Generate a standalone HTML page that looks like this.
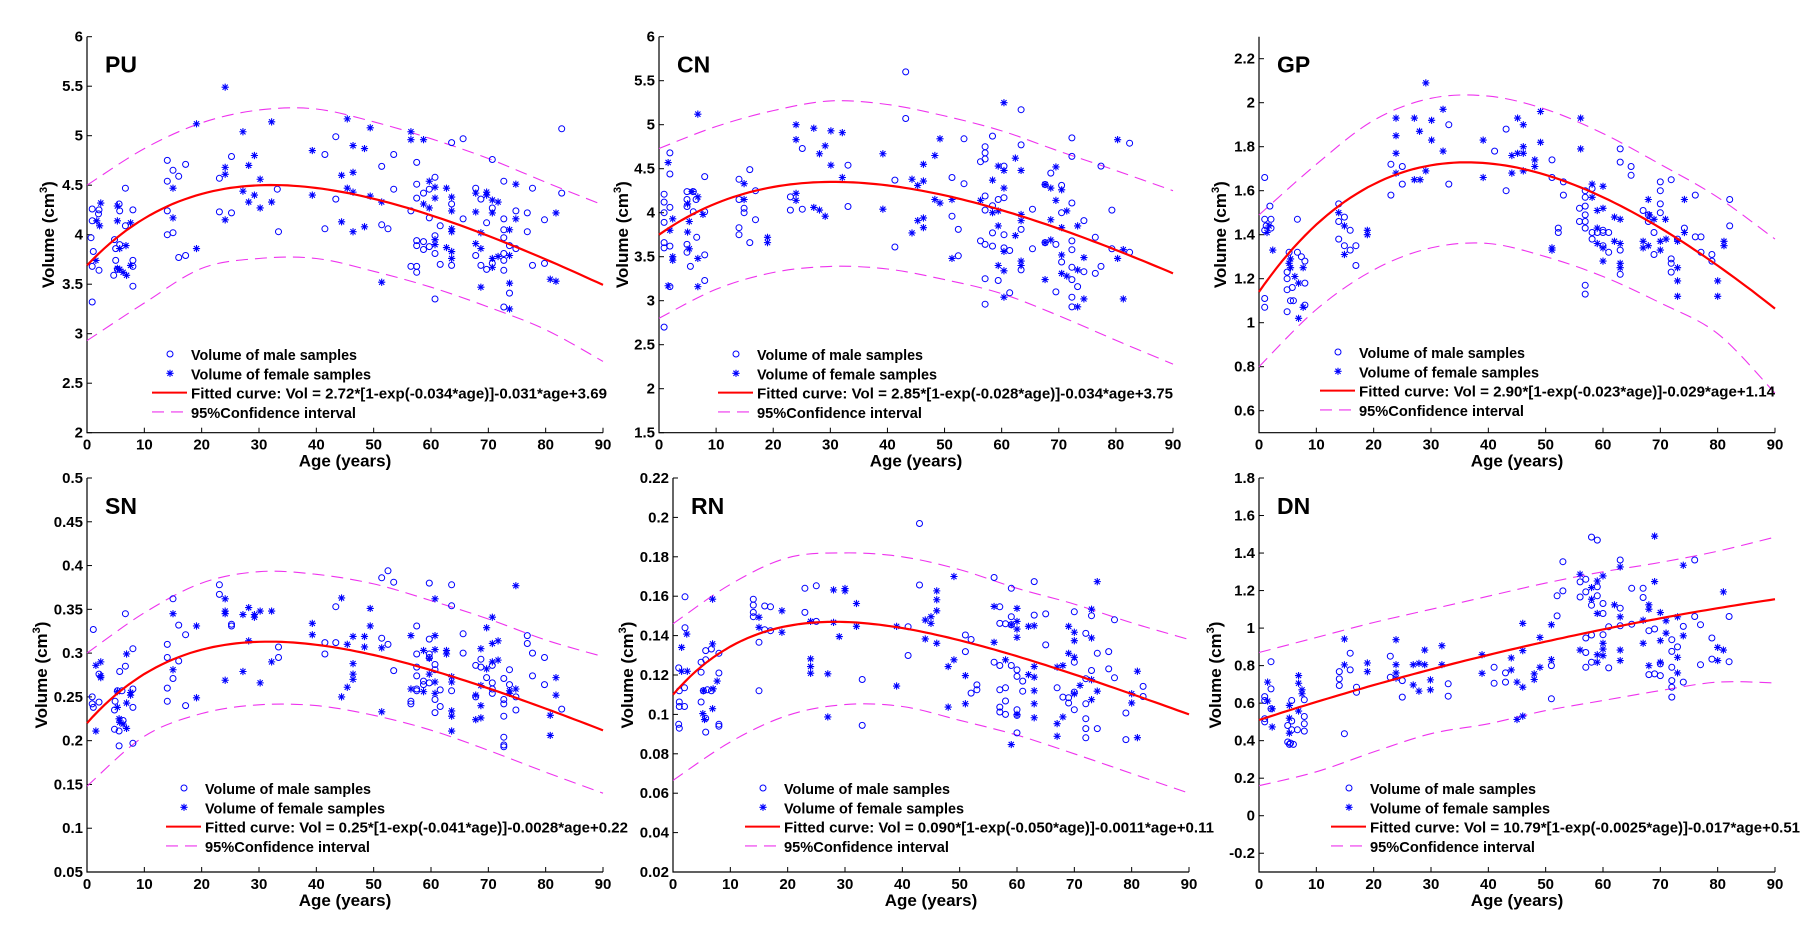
<!DOCTYPE html>
<html><head><meta charset="utf-8"><title>Volume vs age</title>
<style>
html,body{margin:0;padding:0;background:#fff;}
svg{display:block;font-family:"Liberation Sans",Arial,sans-serif;}
.tick{font-size:15px;font-weight:bold;fill:#000;}
.axt{font-size:17px;font-weight:bold;fill:#000;}
.ttl{font-size:23px;font-weight:bold;fill:#000;}
.leg{font-size:15px;font-weight:bold;fill:#000;}
</style></head>
<body>
<svg id="fig" width="1800" height="927" viewBox="0 0 1800 927"></svg>
<script>
// ---------- DATA ----------
const ciAges = [0,10,20,30,40,50,60,70,80,90];

const puFit = [2.72,0.034,0.031,3.69];
const puUpper = [4.5,4.87,5.13,5.26,5.27,5.14,4.97,4.77,4.53,4.3];
const puLower = [2.93,3.31,3.66,3.76,3.76,3.63,3.47,3.27,3.04,2.72];
const puMale = [[0.9,4.26],[0.9,4.14],[0.7,3.97],[1.1,3.83],[0.9,3.68],[0.9,3.32],[2.1,4.25],[2.0,4.21],[2.1,3.64],
[4.8,3.95],[5,3.74],[4.65,3.59],[5.6,4.31],[5.7,4.24],[5.7,3.9],[5,3.86],[6.7,4.47],[6.7,4.09],[8,4.25],[8,3.74],[8,3.68],[8,3.48],[5.3,3.65],
[14,4.75],[14,4.54],[14,4.24],[14,4.0],[15,4.65],[15,4.02],[16,4.59],[16,3.77],[17.2,4.71],[17.2,3.79],
[23.1,4.57],[23.1,4.23],[25.2,4.79],[25.2,4.22],[33.2,4.46],[33.4,4.03],
[41.5,4.81],[41.5,4.06],[43.4,4.99],[43.4,4.36],[51.4,4.69],[51.4,4.1],[52.5,4.06],[53.5,4.81],[53.5,4.46],
[57.5,4.73],[57.5,4.51],[57.5,4.37],[56.5,4.24],[57.5,3.94],[57.5,3.89],[56.5,3.68],[57.5,3.68],[57.5,3.62],[58.7,4.42],[58.7,3.93],[58.7,3.85],[59.7,4.46],[59.7,4.17],[59.7,3.88],[60.7,4.58],[60.7,3.81],[60.7,3.35],[60.7,3.99],[61.6,4.09],[61.6,3.7],[63.6,4.93],[63.6,4.31],[63.6,3.69],[65.6,4.97],[65.6,4.16],
[67.8,4.47],[67.8,3.79],[68.7,4.36],[68.7,3.69],[69.7,4.12],[69.7,3.65],[70.7,4.76],[70.7,4.27],[70.7,3.71],[72.7,4.54],[72.7,4.16],[72.7,4.05],[72.7,3.97],[72.7,3.81],[72.7,3.74],[72.7,3.64],[72.7,3.27],[73.7,3.89],[73.7,3.41],[74.8,4.24],[74.8,3.86],[76.8,4.22],[76.8,4.03],[77.7,4.47],[77.7,3.69],[79.8,4.15],[79.8,3.71],[82.8,5.07],[82.8,4.42]];
const puFemale = [[2.4,4.32],[2.2,4.09],[1.55,3.74],[1.7,4.14],[5.3,4.29],[5.3,4.14],[5.7,3.86],[5.7,3.65],[5.3,3.66],[6.3,3.62],[6.8,3.89],[6.9,3.59],[7.6,4.12],[7.6,3.69],
[15,4.47],[15,4.17],[19.1,5.12],[19.1,3.86],[24.1,5.49],[24.1,4.68],[24.1,4.61],[24.1,4.15],[27.2,5.04],[27.2,4.44],[28.2,4.7],[28.2,4.33],[29.2,4.8],[29.2,4.4],[30.2,4.56],[30.2,4.27],[32.2,5.14],[32.2,4.33],
[39.3,4.85],[39.3,4.4],[44.4,4.6],[44.4,4.13],[45.4,5.17],[45.4,4.47],[46.4,4.9],[46.4,4.63],[46.4,4.43],[46.4,4.03],[48.4,4.87],[48.4,4.08],[49.4,5.08],[49.4,4.39],[51.4,4.33],[51.4,3.52],
[56.5,5.04],[56.5,4.96],[58.7,4.96],[58.7,4.31],[59.7,4.54],[59.7,4.27],[60.7,4.48],[60.7,4.37],[60.7,3.95],[60.7,3.9],[62.7,4.47],[62.7,3.87],[63.6,4.38],[63.6,4.24],[63.6,4.06],[63.6,4.03],[63.6,3.76],[63.6,3.83],[67.8,4.42],[67.8,4.23],[67.8,3.91],[68.7,4.02],[68.7,3.86],[68.7,3.47],[69.7,4.43],[69.7,4.4],[70.7,4.35],[70.7,4.22],[70.7,3.76],[70.7,3.67],[71.7,4.33],[71.7,3.78],[73.7,4.05],[73.7,3.79],[73.7,3.51],[73.7,3.25],[74.8,4.51],[74.8,4.16],[80.8,3.55],[81.8,4.22],[81.8,3.53]];

const cnFit = [2.85,0.028,0.034,3.75];
const cnUpper = [4.73,4.98,5.16,5.27,5.23,5.1,4.93,4.7,4.48,4.25];
const cnLower = [2.8,3.13,3.32,3.39,3.36,3.24,3.08,2.83,2.55,2.28];
const cnMale = [[0.9,4.21],[0.9,4.12],[0.9,4.0],[0.9,3.89],[0.9,3.66],[0.9,3.6],[0.9,2.7],[1.9,4.68],[1.9,4.44],[1.9,4.06],[1.9,3.62],[1.9,3.16],[4.9,4.24],[4.9,4.15],[4.9,4.07],[4.9,3.64],[4.9,3.55],[5.5,3.39],[6,4.24],[6,4.01],[6.5,4.15],[6.6,3.72],[8,4.41],[8,4.01],[8,3.52],[8,3.23],
[14,4.38],[14,4.15],[14,3.83],[14,3.75],[14.9,4.05],[14.9,4.0],[15.9,4.49],[15.9,3.66],[16.9,4.25],[16.9,3.92],
[23,4.18],[23,4.03],[25.1,4.73],[25.1,4.04],[33.1,4.54],[33.1,4.07],
[41.3,4.37],[41.3,3.61],[43.2,5.6],[43.2,5.07],[51.3,4.4],[51.3,3.96],[52.4,3.81],[52.4,3.51],[53.4,4.84],[53.4,4.33],[56.3,4.58],[57.1,4.75],[57.1,4.68],[57.1,4.61],[57.1,4.19],[57.1,4.03],[56.3,3.68],[57.1,3.64],[57.1,3.25],[57.1,2.96],[58.4,4.87],[58.4,4.08],[58.4,3.77],[58.4,3.62],[59.4,4.15],[59.4,3.23],[60.4,4.53],[60.4,4.17],[60.4,3.75],[60.4,3.6],[61.4,3.57],[61.4,3.09],[63.4,5.17],[63.4,4.77],[63.4,3.81],[63.4,3.35],[65.4,4.04],[65.4,3.59],[67.6,4.32],[67.6,3.66],[68.6,4.45],[69.5,3.64],[69.5,3.1],[70.5,4.31],[70.5,4.0],[70.5,3.44],
[72.3,4.85],[72.3,4.64],[77.4,4.53],[72.3,4.11],[79.3,4.03],[74.4,3.91],[72.3,3.68],[72.3,3.58],[76.4,3.72],[79.3,3.59],[82.4,3.55],[72.3,3.38],[74.4,3.33],[76.4,3.31],[77.4,3.39],[72.3,3.24],[73.3,3.16],[72.3,3.04],[72.3,2.93],[82.4,4.79]];
const cnFemale = [[1.6,4.57],[1.6,3.17],[1.9,3.8],[2.4,3.93],[2.4,3.5],[2.4,3.46],[5,4.1],[5.3,3.9],[5,3.78],[5.3,3.59],[5.8,4.24],[6.8,5.12],[6.8,4.18],[6.8,3.48],[6.8,3.16],[7.7,3.98],
[14.9,4.33],[14.9,4.15],[19,3.72],[19,3.66],[24,5.0],[24,4.83],[24,4.22],[24,4.14],[27.1,4.96],[27.1,4.06],[28.1,4.67],[28.1,4.03],[29.1,4.76],[29.1,3.96],[30.1,4.93],[30.1,4.54],[32.1,4.91],[32.1,4.4],
[39.2,4.67],[39.2,4.04],[44.3,4.38],[44.3,3.77],[45.3,4.31],[45.3,3.91],[46.3,4.55],[46.3,4.36],[46.3,3.94],[46.3,3.83],[48.3,4.65],[48.3,4.15],[49.2,4.84],[49.2,4.11],[51.3,4.15],[51.3,3.48],[56.3,4.14],[58.4,4.37],[58.4,4.0],[59.4,4.53],[59.4,4.02],[59.4,3.85],[59.4,3.4],[60.4,5.25],[60.4,4.48],[60.4,4.28],[60.4,3.56],[60.4,3.34],[60.4,3.04],[62.4,4.62],[62.4,3.74],[63.4,4.48],[63.4,3.98],[63.4,3.91],[63.4,3.45],[63.4,3.4],[67.6,4.32],[67.6,3.66],[67.6,3.24],[68.6,4.28],[68.6,3.92],[68.6,3.69],[69.5,4.52],[69.5,4.14],[70.5,4.26],[70.5,3.83],[70.5,3.52],[70.5,3.31],[71.4,4.02],[71.4,3.28],
[73.3,3.85],[74.4,3.49],[73.3,3.35],[80.3,4.83],[81.3,3.58],[80.3,3.48],[81.3,3.02],[74.4,3.02],[73.3,2.93]];

const gpFit = [2.90,0.023,0.029,1.14];
const gpUpper = [1.49,1.72,1.92,2.02,2.03,1.97,1.86,1.72,1.57,1.38];
const gpLower = [0.8,1.06,1.24,1.34,1.36,1.3,1.21,1.09,0.95,0.68];
const gpMale = [[1,1.66],[1,1.47],[1,1.42],[1,1.11],[1,1.07],[1.9,1.53],[2.1,1.47],[2.1,1.43],[1.25,1.44],
[4.9,1.23],[4.9,1.2],[4.9,1.15],[4.9,1.05],[5.25,1.32],[5.5,1.1],[6,1.1],[5.8,1.16],[6.7,1.47],[6.7,1.32],[7.4,1.3],[8,1.28],[8,1.18],[8,1.08],
[13.9,1.54],[13.9,1.46],[13.9,1.38],[14.9,1.48],[14.9,1.35],[15.9,1.42],[15.9,1.33],[16.9,1.35],[16.9,1.26],
[23,1.72],[23,1.58],[25,1.71],[25,1.63],[33.1,1.9],[33.1,1.63],[41.1,1.78],[43.1,1.88],[43.1,1.6],[51.1,1.74],[51.1,1.66],[52.2,1.43],[52.2,1.41],[53.1,1.64],[53.1,1.58],
[56.9,1.6],[56.9,1.57],[58.1,1.61],[56.9,1.53],[55.9,1.52],[56.9,1.49],[55.9,1.46],[56.9,1.46],[56.9,1.43],[58.1,1.41],[58.1,1.38],[59,1.41],[60,1.41],[61,1.41],[61,1.32],[60,1.35],[60,1.42],[56.9,1.17],[56.9,1.13],[63,1.79],[63,1.73],[64.9,1.71],[64.9,1.67],[63,1.33],[63,1.22],[67,1.51],[67.9,1.46],[67.9,1.49],[68.9,1.41],[68.9,1.31],[70,1.64],[70,1.6],[70,1.54],[70,1.5],[71.9,1.65],[71.9,1.29],[71.9,1.27],[71.9,1.23],[73,1.38],[74.2,1.43],[76.1,1.39],[77.1,1.39],[77.1,1.32],[76.1,1.58],[79,1.31],[79,1.28],[82.1,1.56],[82.1,1.44]];
const gpFemale = [[1.4,1.41],[1.75,1.44],[2.4,1.33],[5.25,1.27],[5.5,1.25],[5.5,1.29],[6.25,1.21],[6.9,1.18],[6.9,1.02],[7.7,1.25],[7.7,1.07],
[13.9,1.5],[14.9,1.44],[14.9,1.31],[18.9,1.42],[18.9,1.4],[23.9,1.93],[23.9,1.85],[23.9,1.77],[23.9,1.68],[27.1,1.93],[27.1,1.65],[28,1.87],[28.1,1.65],[29.1,2.09],[29.1,1.69],[30.1,1.92],[30.1,1.83],[32.1,1.97],[32.1,1.78],[39.1,1.83],[39.1,1.66],[44.1,1.76],[44.1,1.68],[45.1,1.93],[45.1,1.77],[46.1,1.9],[46.1,1.8],[46.1,1.77],[46.1,1.69],[48.1,1.74],[48.1,1.71],[49.1,1.96],[49.1,1.82],[51.1,1.34],[51.1,1.33],[56.1,1.79],[56.1,1.93],
[58.1,1.63],[60,1.62],[58.1,1.57],[59,1.51],[60,1.52],[59,1.43],[59,1.36],[60,1.34],[60,1.28],[62,1.48],[63,1.47],[62,1.37],[63,1.36],[63,1.27],[63,1.25],[67.9,1.56],[68.1,1.49],[68.9,1.47],[70.9,1.47],[67,1.37],[67,1.34],[67.9,1.35],[70,1.37],[70,1.33],[71,1.38],[73,1.37],[73,1.25],[73,1.19],[73,1.12],[74.2,1.56],[74.2,1.41],[80,1.19],[80,1.12],[81.1,1.37],[81.1,1.35]];

const snFit = [0.25,0.041,0.0028,0.22];
const snUpper = [0.3,0.346,0.38,0.393,0.39,0.379,0.36,0.339,0.315,0.296];
const snLower = [0.148,0.205,0.231,0.241,0.24,0.229,0.212,0.189,0.164,0.14];
const snMale = [[0.9,0.25],[0.9,0.242],[1.1,0.238],[1.1,0.327],[2.1,0.276],[2.1,0.244],[4.9,0.245],[4.8,0.235],[4.8,0.213],[5.3,0.257],[5.6,0.211],[5.6,0.194],[5.7,0.279],[6.1,0.257],[6.3,0.223],[6.7,0.345],[6.7,0.285],[8,0.305],[8,0.259],[8,0.238],[8,0.197],
[14,0.31],[14,0.295],[14,0.26],[14,0.245],[15,0.362],[15,0.271],[16,0.332],[16,0.291],[17.2,0.321],[17.2,0.24],[23.1,0.378],[23.1,0.367],[25.2,0.333],[25.2,0.331],[33.4,0.307],[33.4,0.295],[41.5,0.312],[41.5,0.299],[43.4,0.353],[43.4,0.312],[51.4,0.386],[51.4,0.317],[52.5,0.394],[52.5,0.31],[53.5,0.381],[53.5,0.28],
[56.5,0.245],[56.5,0.242],[57.5,0.331],[57.5,0.299],[57.5,0.284],[57.5,0.274],[57.5,0.259],[57.5,0.257],[58.7,0.268],[58.7,0.264],[59.7,0.38],[59.7,0.316],[59.7,0.299],[59.7,0.295],[59.7,0.266],[60.7,0.287],[60.7,0.281],[60.7,0.247],[60.7,0.232],[61.6,0.239],[61.6,0.258],[63.6,0.378],[63.6,0.354],[63.6,0.257],[65.6,0.322],[65.6,0.3],[67.8,0.286],[67.8,0.25],[68.7,0.293],[68.7,0.284],[69.7,0.272],[70.7,0.266],[70.7,0.259],[70.7,0.254],[70.7,0.286],[72.7,0.271],[72.7,0.247],[72.7,0.242],[72.7,0.228],[72.7,0.204],[72.7,0.195],[72.7,0.193],[73.7,0.281],[73.7,0.264],[74.8,0.25],[74.8,0.235],[76.8,0.32],[76.8,0.311],[77.7,0.3],[77.7,0.274],[79.8,0.295],[79.8,0.264],[82.8,0.236]];
const snFemale = [[1.55,0.286],[1.55,0.211],[2.4,0.29],[2.4,0.274],[2.4,0.272],[5.3,0.238],[5.3,0.256],[5.6,0.225],[5.7,0.221],[6.3,0.219],[6.9,0.299],[6.9,0.243],[6.9,0.214],[7.6,0.255],[7.6,0.252],
[15,0.345],[15,0.281],[19.1,0.331],[19.1,0.249],[24.1,0.362],[24.1,0.348],[24.1,0.345],[24.1,0.269],[27.2,0.344],[27.2,0.279],[28.2,0.352],[28.2,0.314],[29.2,0.344],[29.2,0.341],[30.2,0.348],[30.2,0.266],[32.2,0.348],[32.2,0.29],
[39.3,0.334],[39.3,0.321],[44.4,0.363],[44.4,0.25],[45.4,0.31],[45.4,0.261],[46.4,0.319],[46.4,0.288],[46.4,0.276],[46.4,0.27],[48.4,0.319],[48.4,0.307],[49.4,0.351],[49.4,0.331],[51.4,0.306],[51.4,0.233],
[56.5,0.32],[56.5,0.259],[58.7,0.303],[58.7,0.256],[59.7,0.294],[59.7,0.276],[60.7,0.362],[60.7,0.32],[60.7,0.304],[60.7,0.267],[60.7,0.254],[62.7,0.303],[62.7,0.299],[63.6,0.273],[63.6,0.267],[63.6,0.234],[63.6,0.228],[63.6,0.211],[67.8,0.252],[67.8,0.224],[68.7,0.305],[68.7,0.263],[68.7,0.24],[68.7,0.226],[69.7,0.282],[69.7,0.329],[70.7,0.341],[70.7,0.311],[70.7,0.29],[71.7,0.292],[71.7,0.314],[73.7,0.254],[73.7,0.257],[74.8,0.377],[74.8,0.259],[80.8,0.229],[80.8,0.206],[81.8,0.272],[81.8,0.252]];

const rnFit = [0.090,0.050,0.0011,0.11];
const rnUpper = [0.146,0.166,0.1795,0.182,0.18,0.1735,0.164,0.156,0.1465,0.138];
const rnLower = [0.0665,0.086,0.0995,0.105,0.104,0.097,0.0895,0.08,0.07,0.06];
const rnMale = [[1,0.1236],[1.1,0.112],[1.1,0.1063],[1.1,0.104],[1,0.095],[1.1,0.093],[2.1,0.1597],[2.1,0.144],[2,0.1135],[2,0.104],[4.9,0.1265],[4.9,0.1214],[4.9,0.1063],[5.3,0.112],[5.7,0.1324],[5.7,0.1277],[5.7,0.091],[5.7,0.098],[6.7,0.1332],[6.7,0.112],[8,0.131],[8,0.121],[8,0.095],[8,0.094],[6,0.1125],
[14,0.1585],[14,0.1555],[14,0.1518],[14,0.1496],[15,0.112],[15,0.1366],[16,0.155],[16,0.143],[17,0.1546],[17,0.1425],[23,0.164],[23,0.1518],[25,0.1653],[25,0.1472],[33,0.1177],[33,0.0944],[41,0.1445],[41,0.1299],[43,0.1969],[43,0.1657],[51,0.1403],[51,0.1319],[52,0.138],[52,0.1108],[53,0.115],[53,0.1125],
[56,0.1695],[57,0.1546],[57,0.1462],[57,0.1125],[57,0.1037],[57,0.1012],[56,0.1265],[57,0.1248],[58,0.146],[58,0.1135],[58,0.1068],[58,0.1],[59,0.164],[59,0.1496],[59,0.1455],[59,0.1248],[60,0.1226],[60,0.1193],[60,0.1024],[60,0.0995],[60,0.0906],[61,0.1169],[61,0.1118],[63,0.1674],[63,0.1504],[65,0.151],[65,0.1353],[67,0.1135],[68,0.1088],[69,0.1085],[69,0.1058],[70,0.1521],[70,0.1265],[70,0.1113],[70,0.1024],[72,0.1411],[72,0.1181],[72,0.1054],[72,0.0978],[72,0.0928],[72,0.0881],[73,0.1501],[73,0.1223],[74,0.131],[74,0.0928],[76,0.1319],[76,0.1231],[77,0.1186],[77,0.148],[79,0.1007],[79,0.0872],[82,0.1142],[82,0.1091]];
const rnFemale = [[1.5,0.134],[1.5,0.1219],[2.5,0.1219],[2.4,0.1408],[5.2,0.1004],[5.3,0.112],[5.5,0.0974],[6.9,0.1358],[6.9,0.1585],[6.9,0.1029],[7.7,0.1169],[7,0.113],
[15,0.1493],[15,0.1442],[19,0.1526],[19,0.1417],[24,0.1472],[24,0.1282],[24,0.1243],[24,0.1209],[27,0.1206],[27,0.0987],[28,0.1632],[28,0.1467],[29,0.1395],[30,0.1639],[30,0.1627],[32,0.1563],[32,0.1447],
[39,0.1447],[39,0.1144],[44,0.1383],[44,0.1479],[45,0.1496],[45,0.1462],[46,0.1627],[46,0.1582],[46,0.1526],[46,0.1361],[48,0.1243],[48,0.1037],[49,0.17],[49,0.1277],[51,0.1197],[51,0.1054],
[56,0.1548],[56,0.1366],[58,0.1277],[59,0.1455],[59,0.0847],[60,0.1538],[60,0.1472],[60,0.1433],[60,0.1391],[60,0.1],[62,0.1447],[62,0.1202],[63,0.145],[63,0.1243],[63,0.1189],[63,0.112],[63,0.1054],[63,0.0983],[67,0.124],[67,0.0953],[67,0.0889],[68,0.1248],[68,0.0987],[69,0.1447],[69,0.131],[70,0.1417],[70,0.1374],[70,0.129],[70,0.1105],[71,0.1147],[73,0.1534],[73,0.1388],[73,0.1176],[73,0.1075],[74,0.1674],[74,0.1118],[80,0.1105],[80,0.1058],[81,0.1219],[81,0.0882]];

const dnFit = [10.79,0.0025,0.017,0.51];
const dnUpper = [0.87,0.95,1.03,1.1,1.17,1.24,1.3,1.35,1.41,1.485];
const dnLower = [0.16,0.234,0.34,0.437,0.49,0.56,0.614,0.667,0.712,0.708];
const dnMale = [[1,0.635],[1,0.614],[1,0.517],[1,0.5],[2.1,0.821],[2.1,0.676],[2.1,0.57],[5,0.481],[5,0.393],[5.3,0.38],[5.5,0.387],[5.7,0.614],[5.7,0.505],[5.7,0.458],[6,0.38],[6.7,0.458],[7.9,0.618],[7.9,0.529],[7.9,0.49],[7.9,0.451],
[14,0.768],[14,0.729],[14,0.694],[14.9,0.437],[15.9,0.866],[15.9,0.777],[17,0.685],[17,0.658],[22.9,0.85],[22.9,0.738],[25,0.72],[25,0.632],[33,0.703],[33,0.637],[41,0.791],[41,0.706],[43,0.761],[43,0.712],[51,0.8],[51,0.623],[52,1.065],[52,1.172],[53,1.354],[53,1.198],
[56,1.246],[56,1.166],[57,1.26],[57,1.193],[57,0.947],[57,0.791],[57,0.87],[58,1.485],[58,1.122],[58,0.963],[58,0.818],[59,1.469],[59,1.22],[59,1.172],[60,1.131],[60,1.078],[60,0.965],[61,1.007],[61,0.788],[63,1.363],[63,1.106],[63,1.012],[65,1.212],[65,1.021],[67,1.212],[67,1.163],[68,0.986],[68,0.752],[69,0.995],[69,0.756],[70,0.809],[70,0.747],[72,0.938],[72,0.876],[72,0.791],[72,0.72],[72,0.685],[72,0.632],[73,0.9],[74,0.712],[74,1.009],[76,1.363],[76,1.062],[77,1.018],[77,0.805],[79,0.947],[79,0.835],[82,1.062],[82,0.821]];
const dnFemale = [[1.5,0.712],[1.5,0.611],[2.3,0.57],[2.3,0.473],[5.3,0.52],[5.3,0.44],[5.3,0.588],[6.9,0.747],[6.9,0.706],[6.9,0.558],[7.5,0.65],[7.5,0.671],
[14.9,0.942],[14.9,0.804],[18.9,0.814],[18.9,0.768],[23.9,0.938],[23.9,0.805],[23.9,0.761],[23.9,0.733],[26.9,0.805],[26.9,0.697],[27.9,0.812],[27.9,0.664],[28.9,0.883],[28.9,0.805],[29.9,0.724],[29.9,0.671],[31.9,0.906],[31.9,0.805],
[38.9,0.858],[38.9,0.759],[44,0.841],[44,0.777],[45,0.712],[45,0.513],[46,1.025],[46,0.88],[46,0.685],[46,0.531],[48,0.756],[48,0.726],[49,0.95],[49,0.791],[51,1.018],[51,0.832],
[56,1.287],[56,0.883],[58,1.216],[58,1.154],[59,1.251],[59,1.078],[59,0.858],[59,0.818],[60,1.278],[60,0.919],[60,0.888],[60,0.853],[62,1.124],[63,1.326],[63,1.06],[63,0.883],[63,0.827],[67,1.042],[67,0.919],[68,1.124],[68,1.101],[68,0.8],[69,1.49],[69,1.248],[70,1.083],[70,0.933],[70,0.818],[71,1.039],[71,0.973],[73,1.06],[73,0.844],[73,0.761],[74,0.959],[74,1.335],[80,0.827],[80,0.897],[81,0.883],[81,1.193]];

const xTicks = [0,10,20,30,40,50,60,70,80,90];
const puTicks = ["2","2.5","3","3.5","4","4.5","5","5.5","6"];
const cnTicks = ["1.5","2","2.5","3","3.5","4","4.5","5","5.5","6"];
const gpTicks = ["0.6","0.8","1","1.2","1.4","1.6","1.8","2","2.2"];
const snTicks = ["0.05","0.1","0.15","0.2","0.25","0.3","0.35","0.4","0.45","0.5"];
const rnTicks = ["0.02","0.04","0.06","0.08","0.1","0.12","0.14","0.16","0.18","0.2","0.22"];
const dnTicks = ["-0.2","0","0.2","0.4","0.6","0.8","1","1.2","1.4","1.6","1.8"];
const fitLabels = ["2.72*[1-exp(-0.034*age)]-0.031*age+3.69","2.85*[1-exp(-0.028*age)]-0.034*age+3.75","2.90*[1-exp(-0.023*age)]-0.029*age+1.14","0.25*[1-exp(-0.041*age)]-0.0028*age+0.22","0.090*[1-exp(-0.050*age)]-0.0011*age+0.11","10.79*[1-exp(-0.0025*age)]-0.017*age+0.51"];

// ---------- RENDER ----------
const NS = "http://www.w3.org/2000/svg";
const svg = document.getElementById('fig');
function mk(tag, attrs, parent){ const e=document.createElementNS(NS,tag); for(const k in attrs) e.setAttribute(k,attrs[k]); (parent||svg).appendChild(e); return e; }

const panels = [
 {key:'pu',title:'PU',x0:87,x1:603,yt:36.7,yb:432.7,ymin:2,ymax:6,ticks:puTicks,fit:puFit,up:puUpper,lo:puLower,m:puMale,f:puFemale,ylx:48,legX:83,legY:355,lab:0},
 {key:'cn',title:'CN',x0:659,x1:1173,yt:36.7,yb:432.7,ymin:1.5,ymax:6,ticks:cnTicks,fit:cnFit,up:cnUpper,lo:cnLower,m:cnMale,f:cnFemale,ylx:622,legX:77,legY:355,lab:1},
 {key:'gp',title:'GP',x0:1259,x1:1775,yt:36.7,yb:432.7,ymin:0.5,ymax:2.3,ticks:gpTicks,fit:gpFit,up:gpUpper,lo:gpLower,m:gpMale,f:gpFemale,ylx:1220,legX:79,legY:353,lab:2},
 {key:'sn',title:'SN',x0:87,x1:603,yt:478,yb:872,ymin:0.05,ymax:0.5,ticks:snTicks,fit:snFit,up:snUpper,lo:snLower,m:snMale,f:snFemale,ylx:41,legX:97,legY:789,lab:3},
 {key:'rn',title:'RN',x0:673,x1:1189,yt:478,yb:872,ymin:0.02,ymax:0.22,ticks:rnTicks,fit:rnFit,up:rnUpper,lo:rnLower,m:rnMale,f:rnFemale,ylx:627,legX:90,legY:789,lab:4},
 {key:'dn',title:'DN',x0:1259,x1:1775,yt:478,yb:872,ymin:-0.3,ymax:1.8,ticks:dnTicks,fit:dnFit,up:dnUpper,lo:dnLower,m:dnMale,f:dnFemale,ylx:1215,legX:90,legY:789,lab:5}
];

function circle(g,x,y){ const c=mk('circle',{cx:x.toFixed(1),cy:y.toFixed(1),r:3,fill:'none',stroke:'#0000ff','stroke-width':1},g); return c; }
function star(g,x,y){ const s=3.6,d=2.6; const p=mk('path',{d:`M${x-s} ${y}H${x+s}M${x} ${y-s}V${y+s}M${x-d} ${y-d}L${x+d} ${y+d}M${x-d} ${y+d}L${x+d} ${y-d}`,stroke:'#0000ff','stroke-width':1.1,fill:'none'},g); return p; }
function catmull(pts){ let d=`M${pts[0][0].toFixed(1)} ${pts[0][1].toFixed(1)}`; for(let i=0;i<pts.length-1;i++){ const p0=pts[i-1]||pts[i],p1=pts[i],p2=pts[i+1],p3=pts[i+2]||p2; const c1=[p1[0]+(p2[0]-p0[0])/6,p1[1]+(p2[1]-p0[1])/6], c2=[p2[0]-(p3[0]-p1[0])/6,p2[1]-(p3[1]-p1[1])/6]; d+=`C${c1[0].toFixed(1)} ${c1[1].toFixed(1)} ${c2[0].toFixed(1)} ${c2[1].toFixed(1)} ${p2[0].toFixed(1)} ${p2[1].toFixed(1)}`;} return d; }

panels.forEach(P=>{
  const g = mk('g',{});
  
  
  const X = a => P.x0 + (a/90)*(P.x1-P.x0);
  const Y = v => P.yb - (v-P.ymin)/(P.ymax-P.ymin)*(P.yb-P.yt);

  // axes
  const ax = mk('path',{d:`M${P.x0} ${P.yt}V${P.yb}H${P.x1}`,stroke:'#000','stroke-width':1.2,fill:'none'},g);
  
  
  xTicks.forEach(t=>{
    const x=X(t);
    mk('line',{x1:x,y1:P.yb,x2:x,y2:P.yb-5,stroke:'#000','stroke-width':1},g);
    const tx=mk('text',{x:x,y:P.yb+17,'text-anchor':'middle',class:'tick'},g);
    tx.textContent=t;
    
    
  });
  P.ticks.forEach(t=>{
    const y=Y(parseFloat(t));
    mk('line',{x1:P.x0,y1:y,x2:P.x0+5,y2:y,stroke:'#000','stroke-width':1},g);
    const ty=mk('text',{x:P.x0-4,y:y+5,'text-anchor':'end',class:'tick'},g);
    ty.textContent=t;
    
    
  });
  // axis titles
  const xt=mk('text',{x:(P.x0+P.x1)/2,y:P.yb+34,'text-anchor':'middle',class:'axt'},g);
  xt.textContent='Age (years)';
  
  
  const yc=(P.yt+P.yb)/2;
  const yt=mk('text',{x:P.ylx,y:yc,'text-anchor':'middle',class:'axt',transform:`rotate(-90 ${P.ylx} ${yc})`,dy:'6'},g);
  yt.innerHTML='Volume (cm<tspan dy="-7" font-size="11">3</tspan><tspan dy="7">)</tspan>';
  
  
  const ti=mk('text',{x:P.x0+18,y:P.yt+36,class:'ttl'},g);
  ti.textContent=P.title;
  
  

  // CI curves
  [P.up,P.lo].forEach((arr,i)=>{
    const pts=ciAges.map((a,k)=>[X(a),Y(arr[k])]);
    const c=mk('path',{d:catmull(pts),stroke:'#ee33ee','stroke-width':1.1,fill:'none','stroke-dasharray':'12 7'},g);
    
    
  });
  // points
  const mg=mk('g',{},g);
  
  
  P.m.forEach(p=>{ const c=circle(mg,X(p[0]),Y(p[1]));
    
     });
  const fg=mk('g',{},g);
  
  
  P.f.forEach(p=>{ const s=star(fg,X(p[0]),Y(p[1]));
    
     });
  // fit
  const fp=[]; for(let a=0;a<=90;a+=1){ const v=P.fit[0]*(1-Math.exp(-P.fit[1]*a))-P.fit[2]*a+P.fit[3]; fp.push(`${X(a).toFixed(1)} ${Y(v).toFixed(1)}`); }
  const fl=mk('path',{d:'M'+fp.join('L'),stroke:'#ff0000','stroke-width':2.2,fill:'none'},g);
  
  

  // legend
  const lg=mk('g',{},g);
  
  
  const mx=P.x0+P.legX, tx0=mx+21, ly=P.legY, dy=19.3;
  circle(lg,mx,ly-1);
  star(lg,mx,ly+dy-1);
  mk('line',{x1:mx-18,y1:ly+2*dy-1,x2:mx+17,y2:ly+2*dy-1,stroke:'#ff0000','stroke-width':2},lg);
  mk('line',{x1:mx-18,y1:ly+3*dy-1,x2:mx+17,y2:ly+3*dy-1,stroke:'#ee33ee','stroke-width':1.1,'stroke-dasharray':'12 7'},lg);
  const fitTxt='Fitted curve: Vol = '+fitLabels[P.lab];
  const texts=[['Volume of male samples',166],['Volume of female samples',180],[fitTxt,fitTxt.length*7.05],['95%Confidence interval',165]];
  texts.forEach((t,i)=>{
    const e=mk('text',{x:tx0,y:ly+i*dy+5,class:'leg',textLength:t[1].toFixed(0),lengthAdjust:'spacingAndGlyphs'},lg);
    e.textContent=t[0];
    
    
  });
});
</script>
</body></html>
